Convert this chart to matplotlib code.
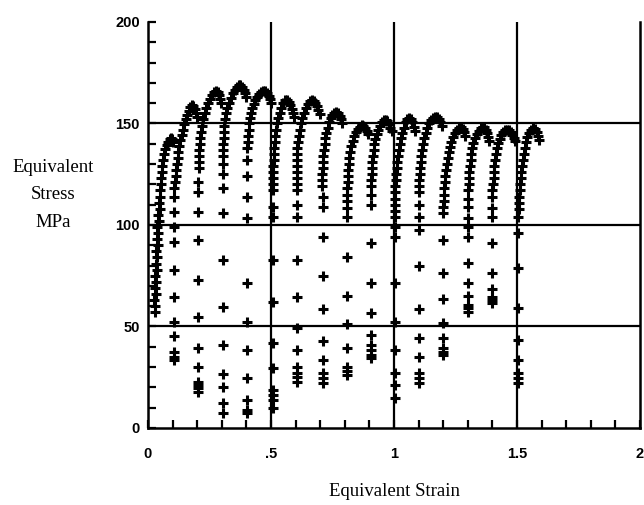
import matplotlib
matplotlib.use('Agg')
import matplotlib.pyplot as plt
from matplotlib.ticker import MultipleLocator

# loading curves (strain, stress MPa), one per reload cycle
curve_00 = [(0.027, 57), (0.030, 60), (0.026, 63), (0.031, 66), (0.028, 69), (0.033, 72), (0.030, 75),
            (0.035, 78), (0.032, 81), (0.037, 84), (0.034, 87), (0.039, 90), (0.036, 93), (0.041, 96),
            (0.038, 99), (0.044, 102), (0.041, 105), (0.047, 108), (0.045, 111), (0.050, 114), (0.048, 117),
            (0.053, 120), (0.052, 123), (0.057, 126), (0.056, 129), (0.061, 132), (0.064, 135), (0.070, 137.5),
            (0.076, 139.5), (0.082, 141), (0.088, 142.5), (0.094, 143), (0.099, 142.5), (0.103, 141)]
curve_01 = [(0.110, 121), (0.112, 124), (0.115, 127), (0.118, 130), (0.121, 133), (0.124, 136), (0.128, 139),
            (0.132, 142), (0.137, 144.5), (0.142, 147), (0.148, 149.5), (0.154, 152), (0.160, 154), (0.166, 156),
            (0.172, 158), (0.178, 159), (0.184, 158.5), (0.190, 157), (0.194, 155), (0.198, 153)]
curve_02 = [(0.206, 128), (0.207, 131), (0.208, 134), (0.209, 137), (0.211, 140), (0.213, 143), (0.216, 146),
            (0.220, 149), (0.225, 152), (0.231, 155), (0.237, 157.5), (0.244, 160), (0.252, 162), (0.260, 164),
            (0.268, 165.5), (0.276, 166), (0.283, 165.5), (0.289, 164), (0.294, 162), (0.298, 160)]
curve_03 = [(0.304, 134), (0.305, 137), (0.306, 140), (0.307, 143), (0.309, 146), (0.311, 149), (0.314, 152),
            (0.318, 155), (0.323, 157.5), (0.329, 160), (0.336, 162.5), (0.344, 165), (0.352, 166.5), (0.360, 168),
            (0.368, 169), (0.376, 169), (0.383, 168), (0.389, 166.5), (0.395, 165), (0.400, 163)]
curve_04 = [(0.404, 138), (0.405, 141), (0.407, 144), (0.409, 147), (0.412, 150), (0.415, 152.5), (0.419, 155),
            (0.424, 157.5), (0.430, 159.5), (0.437, 161.5), (0.445, 163), (0.453, 164.5), (0.461, 165.5),
            (0.469, 166), (0.477, 166), (0.484, 165), (0.490, 163.5), (0.495, 162), (0.499, 160)]
curve_05 = [(0.507, 117), (0.508, 120), (0.508, 123), (0.509, 126), (0.510, 129), (0.511, 132), (0.512, 135),
            (0.514, 138), (0.516, 141), (0.518, 144), (0.521, 147), (0.525, 150), (0.530, 152.5), (0.536, 155),
            (0.542, 157.5), (0.549, 160), (0.557, 161.5), (0.565, 161.5), (0.572, 160.5), (0.579, 159),
            (0.585, 157), (0.589, 155), (0.592, 153)]
curve_06 = [(0.604, 117), (0.604, 120), (0.604, 123), (0.604, 126), (0.605, 129), (0.605, 132), (0.606, 135),
            (0.607, 138), (0.609, 141), (0.612, 144), (0.616, 147), (0.621, 150), (0.627, 152.5), (0.634, 155),
            (0.641, 157.5), (0.649, 159.5), (0.657, 161), (0.665, 161.5), (0.673, 161), (0.680, 160),
            (0.687, 158.5), (0.693, 156.5), (0.698, 154.5)]
curve_07 = [(0.708, 119), (0.708, 122), (0.709, 125), (0.710, 128), (0.711, 131), (0.713, 134), (0.715, 137),
            (0.718, 140), (0.721, 143), (0.725, 145.5), (0.730, 148), (0.736, 150.5), (0.743, 152.5), (0.750, 154),
            (0.758, 155), (0.766, 155.5), (0.773, 155), (0.779, 153.5), (0.784, 152), (0.788, 150)]
curve_08 = [(0.809, 115), (0.810, 118), (0.811, 121), (0.812, 124), (0.814, 127), (0.816, 130), (0.819, 133),
            (0.823, 136), (0.827, 139), (0.832, 141.5), (0.838, 144), (0.845, 146), (0.852, 147.5), (0.860, 148.5),
            (0.868, 149.3), (0.876, 149), (0.883, 148), (0.889, 146.5), (0.894, 145)]
curve_09 = [(0.908, 122), (0.909, 125), (0.910, 128), (0.912, 131), (0.914, 134), (0.917, 137), (0.920, 140),
            (0.924, 142.5), (0.929, 145), (0.935, 147), (0.942, 149), (0.950, 150.5), (0.958, 151.5),
            (0.966, 151.7), (0.973, 151), (0.979, 149.5), (0.985, 148), (0.990, 146.5)]
curve_10 = [(1.004, 107), (1.004, 110), (1.005, 113), (1.005, 116), (1.006, 119), (1.007, 122), (1.009, 125),
            (1.011, 128), (1.013, 131), (1.016, 134), (1.019, 137), (1.023, 140), (1.028, 143), (1.034, 145.5),
            (1.040, 148), (1.047, 150.5), (1.054, 152), (1.061, 152.7), (1.068, 152), (1.074, 150.5),
            (1.080, 148.5), (1.085, 146.5)]
curve_11 = [(1.100, 116), (1.101, 119), (1.102, 122), (1.104, 125), (1.106, 128), (1.108, 131), (1.111, 134),
            (1.114, 137), (1.118, 140), (1.123, 143), (1.129, 145.5), (1.136, 148), (1.144, 150), (1.152, 151.5),
            (1.160, 152.7), (1.168, 153.3), (1.176, 153), (1.183, 152), (1.189, 150.5), (1.194, 149)]
curve_12 = [(1.203, 112), (1.204, 115), (1.205, 118), (1.207, 121), (1.209, 124), (1.211, 127), (1.214, 130),
            (1.218, 133), (1.222, 136), (1.227, 138.5), (1.233, 141), (1.240, 143.5), (1.248, 145.5), (1.256, 147),
            (1.264, 148), (1.272, 148.4), (1.279, 147.5), (1.285, 146), (1.290, 144)]
curve_13 = [(1.302, 117), (1.303, 120), (1.304, 123), (1.306, 126), (1.308, 129), (1.311, 132), (1.314, 135),
            (1.318, 138), (1.323, 140.5), (1.329, 143), (1.336, 145), (1.344, 146.5), (1.352, 147.7),
            (1.360, 148.4), (1.367, 148.2), (1.373, 147), (1.378, 145.5), (1.383, 143.5), (1.386, 141.5)]
curve_14 = [(1.404, 120), (1.405, 123), (1.406, 126), (1.408, 129), (1.411, 132), (1.414, 135), (1.418, 138),
            (1.423, 140.5), (1.429, 142.5), (1.436, 144.5), (1.444, 146), (1.452, 146.8), (1.460, 147),
            (1.468, 146.8), (1.475, 146), (1.481, 144.5), (1.486, 143), (1.490, 141.5)]
curve_15 = [(1.508, 108), (1.509, 111), (1.510, 114), (1.511, 117), (1.513, 120), (1.515, 123), (1.517, 126),
            (1.520, 129), (1.523, 132), (1.527, 135), (1.531, 138), (1.536, 141), (1.542, 143.5), (1.549, 145.5),
            (1.557, 147), (1.565, 147.8), (1.573, 147.3), (1.580, 146), (1.586, 144), (1.591, 142)]

# sparse points recorded during the elastic reloading, one column per cycle
column_strain = [0.107, 0.205, 0.303, 0.404, 0.507, 0.604, 0.710, 0.810,
                 0.908, 1.005, 1.100, 1.200, 1.300, 1.400, 1.505]
column_stress = [
    [33.5, 35.1, 37.6, 45.3, 52.4, 64.7, 77.8, 91.8, 99, 106.5, 114, 118],
    [17.9, 19.6, 21.2, 22.8, 29.9, 39.3, 54.8, 72.9, 92.6, 106.5, 116, 121],
    [7.2, 12.2, 20.3, 26.6, 40.9, 59.8, 82.8, 105.8, 118, 125, 130],
    [7.2, 8.9, 13.8, 24.5, 38.4, 52.4, 71.3, 103.3, 114, 124, 132],
    [9.7, 13.8, 16.3, 18.7, 29.4, 41.7, 62.2, 82.8, 104, 109],
    [22.8, 25.3, 26.9, 30.2, 38.4, 49.1, 64.7, 82.8, 104, 110],
    [22, 24.5, 26.9, 33.5, 43, 58.5, 74.9, 94.2, 109, 114],
    [26.1, 28, 30.2, 39.6, 51.2, 65, 84.4, 104, 108.2, 112],
    [34.3, 36, 38.4, 40.9, 45.8, 56.8, 71.6, 91, 109.9, 115, 119],
    [14.6, 21.2, 26.9, 38.4, 52.4, 71.6, 94.2, 99, 104],
    [22, 24.5, 26.9, 34.8, 44.2, 58.5, 79.8, 97.5, 104, 110],
    [36, 37.6, 39.3, 44.2, 51.9, 63.4, 76.5, 92.6, 105.8, 109],
    [57.3, 59, 60.6, 65, 71.6, 81.4, 94.2, 99.2, 103.3, 109, 113],
    [61.4, 63, 64.7, 68.3, 76.5, 91, 104, 108.2, 114, 117],
    [22, 24.5, 26.9, 33.5, 43.3, 59, 78.7, 96, 104],
]

curves = [curve_00, curve_01, curve_02, curve_03, curve_04, curve_05, curve_06, curve_07,
          curve_08, curve_09, curve_10, curve_11, curve_12, curve_13, curve_14, curve_15]

x_ticks = [0, 0.5, 1, 1.5, 2]
x_labels = ['0', '.5', '1', '1.5', '2']
y_ticks = [0, 50, 100, 150, 200]

fig = plt.figure(figsize=(6.44, 5.05), dpi=100)
ax = fig.add_axes([0.2298, 0.1525, 0.764, 0.804])

mk = dict(linestyle='none', marker='+', ms=6.5, mew=2.2, color='k')
for c in curves:
    ax.plot([p[0] for p in c], [p[1] for p in c], **mk)
for s, vals in zip(column_strain, column_stress):
    ax.plot([s] * len(vals), vals, **mk)

for v in [0.5, 1, 1.5]:
    ax.axvline(v, color='k', lw=1.6, zorder=0)
for v in [50, 100, 150]:
    ax.axhline(v, color='k', lw=1.6, zorder=0)

ax.set_xlim(0, 2)
ax.set_ylim(0, 200)
ax.spines['top'].set_visible(False)
for side in ['left', 'bottom', 'right']:
    ax.spines[side].set_linewidth(1.8)

ax.set_xticks(x_ticks)
ax.set_xticklabels(x_labels)
ax.set_yticks(y_ticks)
ax.xaxis.set_minor_locator(MultipleLocator(0.1))
ax.yaxis.set_minor_locator(MultipleLocator(10))
ax.tick_params(which='both', direction='in', length=6, width=1.6)
ax.tick_params(axis='x', which='major', pad=14)
ax.tick_params(axis='y', which='major', pad=6)
for lab in ax.get_xticklabels() + ax.get_yticklabels():
    lab.set_fontfamily('Liberation Sans')
    lab.set_fontweight('bold')
    lab.set_fontsize(10.5)

fig.text(0.082, 0.614, 'Equivalent\nStress\nMPa', ha='center', va='center',
         family='Liberation Serif', fontsize=13.5, linespacing=1.8)
fig.text(0.613, 0.027, 'Equivalent Strain', ha='center', va='center',
         family='Liberation Serif', fontsize=13.5)

fig.savefig('out.png', dpi=100)
